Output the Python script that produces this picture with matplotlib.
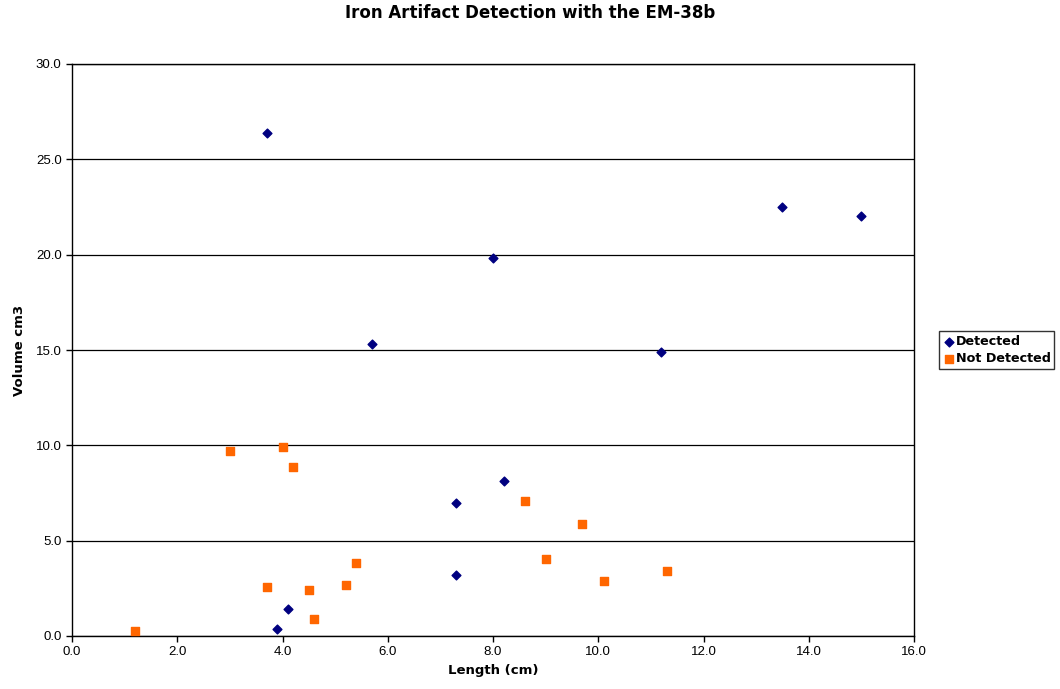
import numpy as np
import matplotlib.pyplot as plt

# artifacts picked up by the EM-38b
det_len = [3.7, 3.9, 4.1, 5.7, 7.3, 7.3, 8.0, 8.2, 11.2, 13.5, 15.0]
det_vol = [26.4, 0.35, 1.4, 15.3, 6.95, 3.2, 19.85, 8.15, 14.9, 22.5, 22.05]

# artifacts that were missed
nd_len = [1.2, 3.0, 3.7, 4.0, 4.2, 4.5, 4.6, 5.2, 5.4, 8.6, 9.0, 9.7, 10.1, 11.3]
nd_vol = [0.25, 9.7, 2.55, 9.9, 8.85, 2.4, 0.9, 2.65, 3.85, 7.1, 4.05, 5.85, 2.9, 3.4]

xticks = np.arange(0, 16.1, 2)
yticks = np.arange(0, 30.1, 5)

fig = plt.figure(figsize=(10.6, 6.89), dpi=100)
ax = fig.add_axes([72/1060, 1 - 636/689, 842/1060, 572/689])

ax.scatter(det_len, det_vol, marker='D', s=20, color='#000080', label='Detected', zorder=3)
ax.scatter(nd_len, nd_vol, marker='s', s=40, color='#FF6600', label='Not Detected', zorder=3)

ax.set_xlim(0, 16)
ax.set_ylim(0, 30)
ax.set_xticks(xticks)
ax.set_yticks(yticks)
ax.set_xticklabels(['%.1f' % t for t in xticks], fontfamily='Liberation Sans', fontsize=9.5)
ax.set_yticklabels(['%.1f' % t for t in yticks], fontfamily='Liberation Sans', fontsize=9.5)
ax.tick_params(direction='out', length=4, width=1, colors='black')
ax.yaxis.grid(True, color='black', linewidth=0.9)
ax.set_axisbelow(True)
for sp in ax.spines.values():
    sp.set_linewidth(1)

ax.set_xlabel('Length (cm)', fontsize=9.5, fontweight='bold', labelpad=4)
ax.set_ylabel('Volume cm3', fontsize=9.5, fontweight='bold', labelpad=7)
fig.text(0.5, 1 - 13/689, 'Iron Artifact Detection with the EM-38b',
         ha='center', va='center', fontsize=12, fontweight='bold')

leg = ax.legend(loc='center left', bbox_to_anchor=(939/842 - 72/842, 0.5),
                frameon=True, fancybox=False, edgecolor='black',
                prop={'weight': 'bold', 'size': 9.2}, handletextpad=0.0,
                handlelength=1.0, borderpad=0.3, labelspacing=0.3, borderaxespad=0)
leg.get_frame().set_linewidth(1)

fig.savefig('out.png', dpi=100)
